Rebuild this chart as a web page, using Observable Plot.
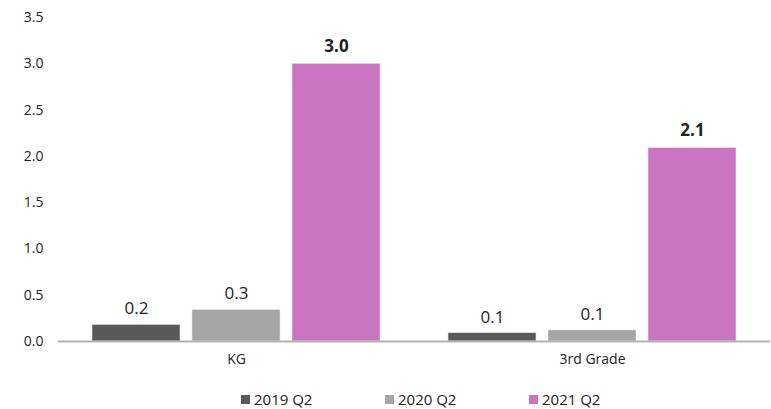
<!DOCTYPE html>
<html>
<head>
<meta charset="utf-8">
<script src="https://cdn.jsdelivr.net/npm/d3@7"></script>
<script src="https://cdn.jsdelivr.net/npm/@observablehq/plot@0.6"></script>
<style>
  html, body { margin: 0; padding: 0; background: #fff; }
  body { width: 771px; height: 409px; position: relative; overflow: hidden; font-family: "Open Sans", Roboto, sans-serif; }
  #legend { position: absolute; top: 389px; left: 241px; display: flex; font-size: 15px; color: #222; }
  #legend .item { display: flex; align-items: center; width: 144px; }
  #legend .sw { width: 9px; height: 9px; margin-right: 4px; }
</style>
</head>
<body>
<div id="chart"></div>
<div id="legend"></div>
<script>
const categories = ["KG", "3rd Grade"];
const series = ["2019 Q2", "2020 Q2", "2021 Q2"];
const values2019 = [0.18, 0.09];
const values2020 = [0.34, 0.12];
const values2021 = [3.0, 2.09];
const colors = ["#595959", "#a6a6a6", "#cc74c4"];
const yTicks = [0, 0.5, 1.0, 1.5, 2.0, 2.5, 3.0, 3.5];

const seriesValues = [values2019, values2020, values2021];
const data = [];
categories.forEach((c, i) => {
  series.forEach((s, j) => {
    data.push({category: c, series: s, value: seriesValues[j][i]});
  });
});

const chart = Plot.plot({
  width: 771,
  height: 380,
  marginLeft: 57,
  marginRight: 1,
  marginTop: 17,
  marginBottom: 39,
  style: {fontFamily: "'Open Sans', Roboto, sans-serif", fontSize: "14px", color: "#222"},
  fx: {domain: categories, padding: 0, label: null, tickSize: 0, tickPadding: 13, axis: "bottom"},
  x: {domain: series, paddingInner: 0.119, paddingOuter: 0.327, axis: null},
  y: {domain: [0, 3.5], ticks: yTicks, tickFormat: d => d.toFixed(1), tickSize: 0, tickPadding: 15, label: null},
  color: {domain: series, range: colors},
  marks: [
    Plot.barY(data, {fx: "category", x: "series", y: "value", fill: "series", stroke: "#e8e8e8", strokeWidth: 0.6}),
    Plot.ruleY([0], {stroke: "#b3b3b3", strokeWidth: 2}),
    Plot.text(data.filter(d => d.series !== "2021 Q2"), {fx: "category", x: "series", y: "value", text: d => d.value.toFixed(1), dy: -16, fontSize: 17, fill: "#222"}),
    Plot.text(data.filter(d => d.series === "2021 Q2"), {fx: "category", x: "series", y: "value", text: d => d.value.toFixed(1), dy: -17, fontSize: 17, fontWeight: "bold", fill: "#222"})
  ]
});
document.getElementById("chart").appendChild(chart);

const legend = document.getElementById("legend");
series.forEach((s, j) => {
  const item = document.createElement("div");
  item.className = "item";
  const sw = document.createElement("span");
  sw.className = "sw";
  sw.style.background = colors[j];
  const t = document.createElement("span");
  t.textContent = s;
  item.appendChild(sw);
  item.appendChild(t);
  legend.appendChild(item);
});
</script>
</body>
</html>
